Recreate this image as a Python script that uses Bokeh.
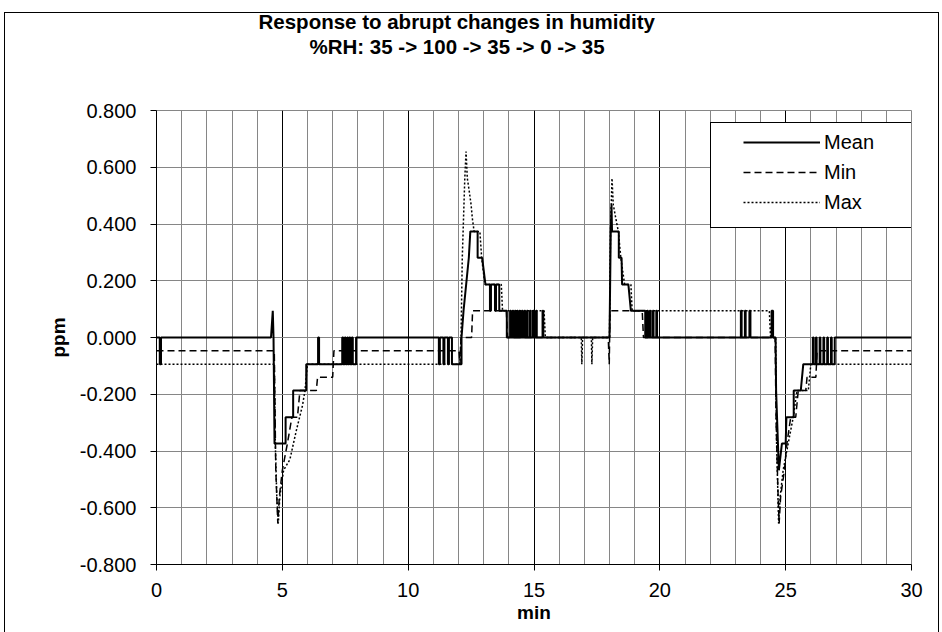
from bokeh.plotting import figure
from bokeh.models import (FixedTicker, NumeralTickFormatter, Title,
                          Legend, LegendItem, Range1d)
from bokeh.embed import file_html
from bokeh.resources import INLINE

TITLE_1 = "Response to abrupt changes in humidity"
TITLE_2 = "%RH: 35 -> 100 -> 35 -> 0 -> 35"
X_LABEL = "min"
Y_LABEL = "ppm"
x_ticks = [0, 5, 10, 15, 20, 25, 30]
y_ticks = [-0.8, -0.6, -0.4, -0.2, 0.0, 0.2, 0.4, 0.6, 0.8]

# Mean (solid): (min, ppm)
mean_pts = [
    (0.00, 0), (0.13, 0), (0.13, -0.094), (0.18, -0.094), (0.18, 0), (4.55, 0),
    (4.62, 0.094), (4.65, 0), (4.69, -0.374), (5.13, -0.374), (5.13, -0.281),
    (5.43, -0.281), (5.43, -0.187), (5.95, -0.187), (5.95, -0.094), (6.42, -0.094),
    (6.42, 0), (6.46, 0), (6.46, -0.094),
    (7.38, -0.094), (7.38, 0), (7.42, 0), (7.42, -0.094), (7.48, -0.094), (7.48, 0),
    (7.52, 0), (7.52, -0.094), (7.58, -0.094), (7.58, 0), (7.61, 0), (7.61, -0.094),
    (7.66, -0.094), (7.66, 0), (7.70, 0), (7.70, -0.094), (7.76, -0.094), (7.76, 0),
    (7.80, 0), (7.80, -0.094), (7.93, -0.094), (7.93, 0),
    (11.22, 0), (11.22, -0.094), (11.26, -0.094), (11.26, 0), (11.40, 0), (11.40, -0.094),
    (11.44, -0.094), (11.44, 0), (11.58, 0), (11.58, -0.094), (11.62, -0.094), (11.62, 0),
    (11.74, 0), (11.74, -0.094),
    (12.12, -0.094), (12.12, 0), (12.20, 0.094), (12.41, 0.281), (12.47, 0.374),
    (12.76, 0.374), (12.76, 0.281), (12.94, 0.281), (13.07, 0.187), (13.25, 0.187),
    (13.25, 0.094), (13.29, 0.094), (13.29, 0.187), (13.45, 0.187), (13.45, 0.094),
    (13.49, 0.094), (13.49, 0.187), (13.62, 0.187), (13.62, 0.094), (13.92, 0.094),
    (13.92, 0),
    (14.05, 0), (14.05, 0.094), (14.08, 0.094), (14.08, 0),
    (14.15, 0), (14.15, 0.094), (14.18, 0.094), (14.18, 0),
    (14.24, 0), (14.24, 0.094), (14.27, 0.094), (14.27, 0),
    (14.33, 0), (14.33, 0.094), (14.36, 0.094), (14.36, 0),
    (14.42, 0), (14.42, 0.094), (14.45, 0.094), (14.45, 0),
    (14.52, 0), (14.52, 0.094), (14.55, 0.094), (14.55, 0),
    (14.62, 0), (14.62, 0.094), (14.65, 0.094), (14.65, 0),
    (14.72, 0), (14.72, 0.094), (14.75, 0.094), (14.75, 0),
    (14.84, 0), (14.84, 0.094), (14.87, 0.094), (14.87, 0),
    (14.96, 0), (14.96, 0.094), (14.99, 0.094), (14.99, 0),
    (15.08, 0), (15.08, 0.094), (15.11, 0.094), (15.11, 0),
    (15.34, 0), (15.34, 0.094), (15.37, 0.094), (15.37, 0),
    (18.00, 0), (18.05, 0.374), (18.08, 0.468), (18.10, 0.374), (18.37, 0.374),
    (18.37, 0.281), (18.48, 0.281), (18.50, 0.187), (18.75, 0.187), (18.85, 0.094),
    (19.42, 0.094), (19.42, 0),
    (19.50, 0), (19.50, 0.094), (19.53, 0.094), (19.53, 0),
    (19.60, 0), (19.60, 0.094), (19.63, 0.094), (19.63, 0),
    (19.72, 0), (19.72, 0.094), (19.75, 0.094), (19.75, 0),
    (19.86, 0), (19.86, 0.094), (19.89, 0.094), (19.89, 0),
    (23.22, 0), (23.22, 0.094), (23.25, 0.094), (23.25, 0),
    (23.38, 0), (23.38, 0.094), (23.41, 0.094), (23.41, 0),
    (23.56, 0), (23.56, 0.094), (23.60, 0.094), (23.60, 0),
    (24.44, 0), (24.44, 0.094), (24.50, 0.094), (24.50, 0),
    (24.60, 0), (24.62, -0.187), (24.73, -0.468), (24.85, -0.374), (25.00, -0.374),
    (25.03, -0.281), (25.32, -0.281), (25.32, -0.187), (25.60, -0.187), (25.70, -0.094),
    (26.08, -0.094), (26.08, 0), (26.11, 0), (26.11, -0.094),
    (26.20, -0.094), (26.20, 0), (26.23, 0), (26.23, -0.094),
    (26.35, -0.094), (26.35, 0), (26.38, 0), (26.38, -0.094),
    (26.50, -0.094), (26.50, 0), (26.53, 0), (26.53, -0.094),
    (26.65, -0.094), (26.65, 0), (26.68, 0), (26.68, -0.094),
    (26.80, -0.094), (26.80, 0), (26.83, 0), (26.83, -0.094),
    (26.95, -0.094), (26.95, 0), (30.00, 0),
]

# Min (dashed)
min_pts = [
    (0.00, -0.047), (4.68, -0.047), (4.74, -0.468), (4.82, -0.655), (4.88, -0.561),
    (5.00, -0.468), (5.20, -0.374), (5.38, -0.281), (5.60, -0.281), (5.70, -0.187),
    (6.35, -0.187), (6.40, -0.140), (7.00, -0.140), (7.05, -0.047), (12.02, -0.047),
    (12.06, -0.094), (12.10, 0), (12.52, 0), (12.56, 0.094), (13.90, 0.094),
    (13.95, 0), (17.95, 0), (17.99, -0.094), (18.02, 0.094), (19.30, 0.094),
    (19.35, 0), (24.58, 0), (24.62, -0.300), (24.70, -0.561), (24.74, -0.655),
    (24.80, -0.561), (24.95, -0.468), (25.05, -0.374), (25.20, -0.281), (25.40, -0.281),
    (25.50, -0.187), (25.80, -0.187), (25.85, -0.140), (26.20, -0.140), (26.25, -0.047),
    (30.00, -0.047),
]

# Max (dotted)
max_pts = [
    (0.00, -0.094), (4.68, -0.094), (4.72, -0.374), (4.78, -0.561), (4.84, -0.655),
    (4.90, -0.561), (5.05, -0.468), (5.30, -0.430), (5.55, -0.330), (5.80, -0.240),
    (5.90, -0.187), (6.00, -0.094), (12.05, -0.094), (12.10, 0), (12.15, 0.281),
    (12.25, 0.561), (12.30, 0.655), (12.35, 0.561), (12.42, 0.520), (12.50, 0.468),
    (12.55, 0.420), (12.62, 0.374), (12.85, 0.374), (12.92, 0.281), (13.05, 0.187),
    (13.70, 0.187), (13.75, 0.094), (15.40, 0.094), (15.45, 0), (16.88, 0),
    (16.90, -0.094), (16.93, 0), (17.28, 0), (17.30, -0.094), (17.33, 0), (18.00, 0),
    (18.04, 0.374), (18.10, 0.561), (18.15, 0.468), (18.25, 0.420), (18.35, 0.374),
    (18.45, 0.281), (18.60, 0.187), (18.85, 0.187), (18.90, 0.094), (24.35, 0.094),
    (24.40, 0), (24.60, 0), (24.64, -0.374), (24.72, -0.655), (24.78, -0.561),
    (24.90, -0.468), (25.00, -0.420), (25.10, -0.374), (25.30, -0.281), (25.45, -0.187),
    (25.90, -0.187), (26.00, -0.094), (30.00, -0.094),
]

mean_t, mean_v = [a for a, b in mean_pts], [b for a, b in mean_pts]
min_t, min_v = [a for a, b in min_pts], [b for a, b in min_pts]
max_t, max_v = [a for a, b in max_pts], [b for a, b in max_pts]

FONT = "Liberation Sans"
GRID = "#868686"

# chart-area border drawn with layered inset shadows (top y=12, left x=4, right x=938)
shadow = ("inset 0 12px 0 0 white, inset 4px 0 0 0 white, inset -3px 0 0 0 white, "
          "inset 0 13px 0 0 black, inset 5px 0 0 0 black, inset -4px 0 0 0 black")

p = figure(width=942, height=632, frame_width=755, frame_height=454,
           x_range=Range1d(0, 30), y_range=Range1d(-0.8, 0.8),
           output_backend="svg", toolbar_location=None,
           min_border_left=156, min_border_right=31, min_border_top=110, min_border_bottom=68,
           styles={"box-shadow": shadow, "background-color": "white"})
p.title.visible = False
p.outline_line_color = GRID
p.background_fill_color = "white"
p.border_fill_alpha = 0

# grids
p.xgrid.ticker = FixedTicker(ticks=[5, 10, 15, 20, 25],
                             minor_ticks=[i for i in range(1, 30) if i % 5])
p.xgrid.grid_line_color = "black"
p.xgrid.minor_grid_line_color = GRID
p.ygrid.ticker = FixedTicker(ticks=y_ticks[1:-1])
p.ygrid.grid_line_color = GRID

# axes
p.xaxis.ticker = FixedTicker(ticks=x_ticks)
p.yaxis.ticker = FixedTicker(ticks=y_ticks)
p.yaxis.formatter = NumeralTickFormatter(format="0.000")
for ax in (p.xaxis[0], p.yaxis[0]):
    ax.axis_line_color = "black"
    ax.major_tick_line_color = "black"
    ax.major_tick_out = 6
    ax.major_tick_in = 0
    ax.minor_tick_line_color = None
    ax.major_label_text_font = FONT
    ax.major_label_text_font_size = "20px"
    ax.major_label_text_color = "black"
    ax.axis_label_text_font = FONT
    ax.axis_label_text_font_style = "bold"
    ax.axis_label_text_font_size = "19px"
    ax.axis_label_text_color = "black"
p.xaxis.axis_label = X_LABEL
p.yaxis.axis_label = Y_LABEL
p.xaxis.major_label_standoff = 12
p.yaxis.major_label_standoff = 14
p.xaxis.axis_label_standoff = 2
p.yaxis.axis_label_standoff = 8

r_max = p.line(max_t, max_v, line_color="black", line_width=1.5, line_dash="2 2")
r_min = p.line(min_t, min_v, line_color="black", line_width=1.5, line_dash="7 4")
r_mean = p.line(mean_t, mean_v, line_color="black", line_width=2)
r_box = p.line([0], [0], line_alpha=0)

# legend frame (an empty legend used as the box)
box = Legend(items=[LegendItem(label=" ", renderers=[r_box])],
             location=(554, 336), glyph_width=201, glyph_height=104, label_height=104,
             label_width=0, label_standoff=0, padding=0, spacing=0,
             label_text_font_size="1px", border_line_color="black", border_line_width=1,
             border_line_alpha=1, background_fill_color="white", background_fill_alpha=1)
p.add_layout(box)

legend = Legend(items=[LegendItem(label="Mean", renderers=[r_mean]),
                       LegendItem(label="Min", renderers=[r_min]),
                       LegendItem(label="Max", renderers=[r_max])],
                location=(584, 344), glyph_width=77, glyph_height=30, label_height=30,
                spacing=0, padding=3, label_standoff=4, border_line_alpha=0,
                background_fill_alpha=0, label_text_font=FONT,
                label_text_font_size="20px", label_text_color="black")
p.add_layout(legend)

# titles: a thin spacer next to the frame, then the two title lines
p.add_layout(Title(text=" ", text_font_size="1px", standoff=50), "above")
p.add_layout(Title(text=TITLE_2, align="left", offset=153, standoff=0,
                   text_font=FONT, text_font_style="bold", text_font_size="20.5px",
                   text_color="black"), "above")
p.add_layout(Title(text=TITLE_1, align="left", offset=102, standoff=0,
                   text_font=FONT, text_font_style="bold", text_font_size="20.5px",
                   text_color="black"), "above")

open("out.html", "w").write(file_html(p, INLINE))
